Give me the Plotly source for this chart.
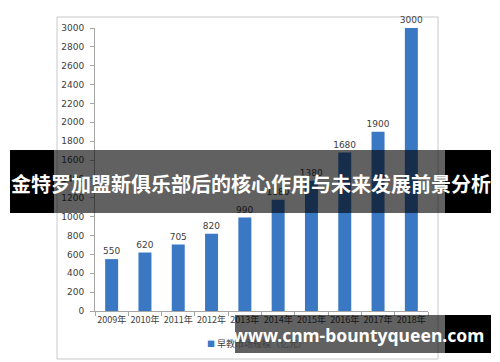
import plotly.graph_objects as go

categories = ["2009年", "2010年", "2011年", "2012年", "2013年",
              "2014年", "2015年", "2016年", "2017年", "2018年"]
values = [550, 620, 705, 820, 990, 1180, 1380, 1680, 1900, 3000]
series_name = "早教市场规模（亿元）"
y_ticks = list(range(0, 3001, 200))
title_text = "金特罗加盟新俱乐部后的核心作用与未来发展前景分析"
site_text = "www.cnm-bountyqueen.com"

BAR_COLOR = "#3a78c4"
O = 8  # page body offset
W, H = 500 - O, 362 - O
L, R, T, B = 95 - O, 428 - O, 28 - O, 311 - O


def px(x):
    return (x - O - L) / (R - L)


def py(y):
    return (B - (y - O)) / (B - T)


fig = go.Figure()
fig.add_trace(go.Bar(
    x=categories, y=values, name=series_name, showlegend=False,
    width=0.39,
    marker=dict(color=BAR_COLOR, line=dict(width=0)),
    text=[str(v) for v in values], textposition="outside",
    constraintext="none",
    textfont=dict(size=9, color="#404040", family="DejaVu Sans"),
    cliponaxis=False,
))

fig.update_layout(
    width=W, height=H,
    margin=dict(l=L, r=W - R, t=T, b=H - B, autoexpand=False),
    paper_bgcolor="white", plot_bgcolor="white",
    font=dict(family="DejaVu Sans", size=9, color="#404040"),
    showlegend=False,
    xaxis=dict(showline=True, linecolor="#a6a6a6", linewidth=1,
               ticks="outside", tickcolor="#a6a6a6", ticklen=4, tickangle=0,
               tickson="boundaries", showgrid=False, automargin=False,
               tickfont=dict(size=9, family="Noto Sans CJK SC", color="#404040")),
    yaxis=dict(range=[0, 3000], tickvals=y_ticks, showline=True, linecolor="#a6a6a6",
               linewidth=1, ticks="outside", tickcolor="#a6a6a6", ticklen=4,
               showgrid=False, zeroline=False, ticklabelstandoff=4, automargin=False,
               tickfont=dict(size=9, color="#404040")),
)

# legend (drawn as text so the swatch sits tight against the label)
fig.add_annotation(
    text="<span style='color:%s;font-size:8px'>■</span> %s" % (BAR_COLOR, series_name),
    xref="paper", yref="paper", x=px(205), y=py(343), xanchor="left", yanchor="middle",
    showarrow=False, font=dict(size=9, color="#404040", family="Noto Sans CJK SC"))

shapes = [
    # chart frame
    dict(type="rect", xref="paper", yref="paper", x0=px(57), x1=px(438), y0=py(359), y1=py(17),
         line=dict(color="#c8c8c8", width=1), fillcolor="rgba(0,0,0,0)", layer="below"),
    # title band
    dict(type="rect", xref="paper", yref="paper", x0=px(10), x1=px(54), y0=py(213), y1=py(150),
         line=dict(width=0), fillcolor="black", layer="above"),
    dict(type="rect", xref="paper", yref="paper", x0=px(54), x1=px(445), y0=py(213), y1=py(150),
         line=dict(width=0), fillcolor="rgba(0,0,0,0.62)", layer="above"),
    dict(type="rect", xref="paper", yref="paper", x0=px(445), x1=px(491), y0=py(213), y1=py(150),
         line=dict(width=0), fillcolor="black", layer="above"),
    # site band
    dict(type="rect", xref="paper", yref="paper", x0=px(235), x1=px(445), y0=py(353), y1=py(315),
         line=dict(width=0), fillcolor="rgba(0,0,0,0.62)", layer="above"),
    dict(type="rect", xref="paper", yref="paper", x0=px(445), x1=px(491), y0=py(353), y1=py(315),
         line=dict(width=0), fillcolor="black", layer="above"),
]
fig.update_layout(shapes=shapes)

fig.add_annotation(text="<b>" + title_text + "</b>", xref="paper", yref="paper",
                   x=px(251), y=py(184), xanchor="center", yanchor="middle", showarrow=False,
                   font=dict(size=20, color="white", family="Noto Sans CJK SC"))
fig.add_annotation(text="<b>" + site_text + "</b>", xref="paper", yref="paper",
                   x=px(358), y=py(335), xanchor="center", yanchor="middle", showarrow=False,
                   font=dict(size=17.5, color="white", family="Noto Sans"))

fig.write_html("out.html")
